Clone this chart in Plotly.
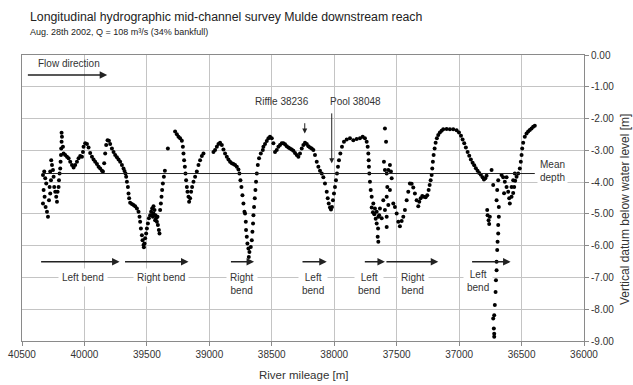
import plotly.graph_objects as go

# ---------------- data ----------------
mileage_a = [40332, 40322, 40314, 40306, 40327, 40319, 40332, 40311, 40300, 40292, 40284, 40274, 40279, 40268,
             40274, 40260, 40266, 40252, 40247, 40242, 40234, 40226, 40220, 40215, 40207, 40204, 40199, 40194,
             40191, 40188, 40186, 40183, 40180, 40183]
depth_a = [-3.78, -3.67, -3.88, -4.04, -4.25, -4.46, -4.67, -4.78, -4.93, -5.09, -4.57, -4.36, -4.15, -3.94,
           -3.67, -3.46, -3.31, -3.62, -3.83, -4.15, -4.30, -4.46, -4.62, -4.30, -4.15, -3.94, -3.73, -3.57,
           -3.36, -3.15, -2.94, -2.73, -2.57, -2.45]

mileage_b = [40172, 40167, 40154, 40140, 40127, 40114, 40100, 40087, 40074, 40060, 40047, 40034, 40020, 40012,
             40007, 39994, 39980, 39967, 39954, 39940, 39927, 39914, 39900, 39887, 39874, 39860, 39852, 39842,
             39834, 39826, 39815, 39804, 39794, 39780, 39767, 39754, 39740, 39727, 39714, 39700, 39687, 39679,
             39671, 39666, 39660, 39652, 39647, 39642, 39634, 39620, 39607, 39594, 39580, 39567]
depth_b = [-2.89, -3.10, -3.15, -3.20, -3.25, -3.36, -3.46, -3.54, -3.46, -3.36, -3.25, -3.18, -3.20, -3.05,
           -2.89, -2.78, -2.80, -2.91, -3.08, -3.20, -3.29, -3.36, -3.43, -3.52, -3.57, -3.64, -3.67, -3.41,
           -3.10, -2.83, -2.68, -2.70, -2.80, -2.94, -3.05, -3.15, -3.22, -3.29, -3.36, -3.46, -3.57, -3.65,
           -3.73, -3.83, -3.99, -4.15, -4.36, -4.51, -4.65, -4.69, -4.72, -4.76, -4.83, -4.93]

mileage_c = [39559, 39554, 39548, 39540, 39535, 39527, 39524, 39519, 39514, 39506, 39500, 39492, 39484, 39474,
             39466, 39458, 39447, 39439, 39431, 39426, 39420, 39412, 39404, 39399, 39415, 39434, 39452, 39460,
             39447, 39394, 39388, 39383, 39378, 39372, 39364, 39356]
depth_c = [-5.09, -5.25, -5.46, -5.67, -5.83, -5.98, -6.05, -5.93, -5.77, -5.62, -5.46, -5.30, -5.14, -5.04,
           -4.93, -4.83, -4.76, -4.88, -5.04, -5.14, -5.25, -5.35, -5.51, -5.62, -5.09, -5.20, -5.09, -5.04,
           -4.99, -4.88, -4.67, -4.46, -4.25, -4.04, -3.83, -3.64]

mileage_d = [39332, 39274, 39260, 39247, 39234, 39220, 39212, 39207, 39202, 39196, 39191, 39186, 39180, 39175,
             39167, 39162, 39154, 39146, 39138, 39127, 39114, 39100, 39087, 39074, 39060, 39047]
depth_d = [-2.94, -2.41, -2.49, -2.57, -2.62, -2.70, -2.89, -3.10, -3.31, -3.52, -3.73, -3.94, -4.15, -4.30,
           -4.46, -4.62, -4.51, -4.30, -4.15, -3.99, -3.83, -3.67, -3.46, -3.31, -3.18, -3.10]

mileage_e = [38967, 38954, 38940, 38927, 38914, 38900, 38887, 38874, 38860, 38847, 38834, 38820, 38807, 38794,
             38780, 38767, 38759, 38751, 38743, 38735, 38727, 38719, 38714, 38708, 38706, 38700, 38695, 38687,
             38679, 38684, 38668, 38660, 38655, 38650, 38647, 38642, 38636, 38631, 38626, 38620, 38612, 38602,
             38588, 38572, 38567, 38554, 38540, 38527, 38514, 38500, 38487, 38474, 38460, 38447, 38434, 38420,
             38407, 38394, 38380, 38367, 38354, 38340, 38327, 38314, 38300, 38287, 38274, 38260, 38247, 38234,
             38220, 38207, 38194, 38180, 38167]
depth_e = [-3.05, -2.99, -2.89, -2.80, -2.76, -2.83, -2.97, -3.10, -3.20, -3.29, -3.36, -3.41, -3.43, -3.46,
           -3.52, -3.60, -3.73, -3.94, -4.15, -4.41, -4.67, -4.93, -4.99, -5.25, -5.51, -5.72, -5.93, -6.09,
           -6.20, -6.36, -6.04, -5.83, -5.56, -5.30, -5.04, -4.78, -4.51, -4.25, -3.99, -3.73, -3.46, -3.25,
           -3.10, -2.99, -2.89, -2.80, -2.71, -2.62, -2.57, -2.62, -2.78, -3.05, -2.99, -2.89, -2.83, -2.78,
           -2.78, -2.81, -2.87, -2.91, -2.94, -2.97, -3.01, -3.08, -3.15, -3.20, -3.10, -2.94, -2.83, -2.76,
           -2.80, -2.87, -2.91, -2.94, -2.99]

mileage_f = [38154, 38140, 38127, 38114, 38100, 38087, 38074, 38060, 38052, 38044, 38034, 38026, 38018, 38010,
             38002, 37994, 37986, 37978, 37970, 37962, 37951, 37938, 37922, 37900, 37874, 37847, 37820, 37794,
             37772, 37754, 37740, 37732, 37727]
depth_f = [-3.15, -3.36, -3.52, -3.64, -3.73, -3.85, -4.04, -4.30, -4.51, -4.67, -4.80, -4.86, -4.78, -4.57,
           -4.36, -4.15, -3.94, -3.73, -3.52, -3.31, -3.10, -2.89, -2.73, -2.66, -2.62, -2.68, -2.64, -2.62,
           -2.57, -2.62, -2.73, -2.89, -3.10]

mileage_g = [37724, 37722, 37719, 37714, 37708, 37700, 37687, 37674, 37660, 37679, 37647, 37660, 37649, 37652,
             37647, 37594, 37585, 37602, 37594, 37580, 37567, 37554, 37546, 37540, 37554, 37580, 37567, 37607,
             37594, 37580, 37634, 37620, 37580, 37575, 37527, 37514, 37500, 37487, 37474, 37460, 37447, 37434,
             37420, 37407, 37394, 37690, 37640, 37668, 37700]
depth_g = [-3.31, -3.52, -3.73, -3.99, -4.25, -4.46, -4.67, -4.83, -4.93, -5.01, -5.09, -5.30, -5.46, -5.72,
           -5.88, -2.31, -2.73, -3.36, -3.62, -3.73, -3.62, -3.46, -3.67, -3.88, -4.25, -4.46, -4.72, -4.57,
           -4.88, -5.09, -4.83, -5.14, -5.41, -4.15, -4.67, -4.78, -4.99, -5.25, -5.39, -5.22, -5.09, -4.88,
           -4.57, -4.30, -4.04, -4.95, -5.04, -5.15, -4.80]

mileage_h = [37380, 37367, 37354, 37340, 37327, 37319, 37308, 37295, 37282, 37268, 37255, 37244, 37236, 37228,
             37220, 37215, 37210, 37204, 37196, 37188, 37178, 37167, 37154, 37140, 37127, 37100, 37074, 37047,
             37020, 37001, 36985, 36972, 36959, 36946, 36932, 36919, 36906, 36892, 36879, 36866, 36852, 36839,
             36826, 36812, 36801, 36790, 36780]
depth_h = [-4.05, -4.17, -4.36, -4.57, -4.76, -4.62, -4.51, -4.44, -4.46, -4.48, -4.41, -4.25, -4.09, -3.94,
           -3.78, -3.57, -3.36, -3.15, -2.94, -2.76, -2.62, -2.52, -2.44, -2.38, -2.34, -2.33, -2.34, -2.34,
           -2.37, -2.44, -2.54, -2.66, -2.78, -2.91, -3.05, -3.17, -3.29, -3.39, -3.47, -3.56, -3.64, -3.71,
           -3.77, -3.85, -3.92, -3.88, -3.80]

mileage_i = [36740, 36775, 36772, 36764, 36759, 36754, 36727, 36687, 36695, 36700, 36682, 36682, 36687, 36687,
             36692, 36695, 36700, 36700, 36705, 36708, 36714, 36719, 36727, 36722, 36719, 36719]
depth_i = [-3.62, -4.88, -5.04, -5.20, -5.32, -5.09, -4.09, -3.94, -4.25, -4.57, -4.78, -5.09, -5.35, -5.62,
           -5.88, -6.14, -6.51, -6.77, -7.09, -7.46, -7.87, -8.19, -8.29, -8.61, -8.77, -8.87]

mileage_j = [36660, 36647, 36634, 36620, 36607, 36599, 36594, 36580, 36567, 36559, 36551, 36540, 36527, 36514,
             36506, 36500, 36495, 36487, 36474, 36460, 36447, 36434, 36420, 36407, 36394, 36567, 36554, 36580,
             36620, 36640]
depth_j = [-3.78, -3.85, -3.99, -4.15, -4.30, -4.51, -4.67, -4.46, -4.34, -4.15, -3.96, -3.83, -3.73, -3.57,
           -3.36, -3.15, -2.94, -2.76, -2.57, -2.47, -2.41, -2.36, -2.31, -2.26, -2.23, -3.94, -3.73, -4.15,
           -3.85, -4.35]

mean_depth = -3.73
mean_extent = [40340, 36394]

x_tick_vals = [40500, 40000, 39500, 39000, 38500, 38000, 37500, 37000, 36500, 36000]
x_tick_text = ["40500", "40000", "39500", "39000", "38500", "38000", "37500", "37000", "36500", "36000"]
y_tick_vals = [0, -1, -2, -3, -4, -5, -6, -7, -8, -9]
y_tick_text = ["0.00", "-1.00", "-2.00", "-3.00", "-4.00", "-5.00", "-6.00", "-7.00", "-8.00", "-9.00"]

# bend arrows: (start mileage, end mileage)
bend_arrows = [(40359, 39719), (39687, 39167), (38839, 38642), (38266, 38060),
               (37767, 37594), (37594, 37167), (36908, 36588)]
bend_arrow_depth = -6.51
# bend labels: (mileage, depth, text)
bend_labels = [(40009, -7.0, "Left bend"), (39386, -7.0, "Right bend"), (38738, -7.2, "Right<br>bend"),
               (38167, -7.2, "Left<br>bend"), (37722, -7.2, "Left<br>bend"), (37367, -7.2, "Right<br>bend"),
               (36847, -7.1, "Left<br>bend")]

mileage = (mileage_a + mileage_b + mileage_c + mileage_d + mileage_e + mileage_f + mileage_g + mileage_h
           + mileage_i + mileage_j)
depth = (depth_a + depth_b + depth_c + depth_d + depth_e + depth_f + depth_g + depth_h + depth_i + depth_j)

FONT = "Liberation Sans, Arial, sans-serif"
TXT = "#333333"
GRID = "#c4c4c4"

L, R, T, B = 22, 49, 55, 44
W, H = 633, 385
pw, ph = W - L - R, H - T - B


def px_to_paper(px, py):
    return (px - L) / pw, (H - B - py) / ph


fig = go.Figure()
fig.add_trace(go.Scatter(x=mileage, y=depth, mode="markers",
                         marker=dict(size=4, color="black", line=dict(width=0)), showlegend=False))
fig.add_trace(go.Scatter(x=mean_extent, y=[mean_depth, mean_depth], mode="lines",
                         line=dict(color="#222222", width=1), showlegend=False))

ann = []
for x0, x1 in bend_arrows:
    ann.append(dict(x=x1, y=bend_arrow_depth, ax=x0, ay=bend_arrow_depth, xref="x", yref="y",
                    axref="x", ayref="y", text="", showarrow=True, arrowhead=2, arrowsize=1,
                    arrowwidth=1.5, arrowcolor="#222222"))
for x, y, t in bend_labels:
    ann.append(dict(x=x, y=y, xref="x", yref="y", text=t, showarrow=False, bgcolor="white",
                    borderpad=3, font=dict(family=FONT, size=10, color=TXT)))

# flow direction
ann.append(dict(x=39818, y=-0.63, ax=40465, ay=-0.63, xref="x", yref="y", axref="x", ayref="y",
                text="", showarrow=True, arrowhead=2, arrowsize=1, arrowwidth=1.5, arrowcolor="#222222"))
ann.append(dict(x=40126, y=-0.28, xref="x", yref="y", text="Flow direction", showarrow=False,
                font=dict(family=FONT, size=10, color=TXT)))
# riffle / pool
ann.append(dict(x=38236, y=-2.47, ax=38236, ay=-2.10, xref="x", yref="y", axref="x", ayref="y",
                text="", showarrow=True, arrowhead=2, arrowsize=1, arrowwidth=1, arrowcolor="#222222"))
ann.append(dict(x=38420, y=-1.45, xref="x", yref="y", text="Riffle 38236", showarrow=False,
                font=dict(family=FONT, size=10, color=TXT)))
ann.append(dict(x=38020, y=-3.41, ax=38020, ay=-1.79, xref="x", yref="y", axref="x", ayref="y",
                text="", showarrow=True, arrowhead=2, arrowsize=1, arrowwidth=1, arrowcolor="#222222"))
ann.append(dict(x=37826, y=-1.45, xref="x", yref="y", text="Pool 38048", showarrow=False,
                font=dict(family=FONT, size=10, color=TXT)))
# mean depth
ann.append(dict(x=36250, y=-3.66, xref="x", yref="y", text="Mean<br>depth", showarrow=False,
                align="left", bgcolor="white", borderpad=2, font=dict(family=FONT, size=10, color=TXT)))

# chart titles and axis titles placed by pixel position
tx, ty = px_to_paper(28, 16.5)
ann.append(dict(x=tx, y=ty, xref="paper", yref="paper", xanchor="left", yanchor="middle",
                text="Longitudinal hydrographic mid-channel survey Mulde downstream reach", showarrow=False,
                font=dict(family=FONT, size=12.3, color="#222222")))
sx, sy = px_to_paper(28, 32)
ann.append(dict(x=sx, y=sy, xref="paper", yref="paper", xanchor="left", yanchor="middle",
                text="Aug. 28th 2002, Q = 108 m³/s (34% bankfull)", showarrow=False,
                font=dict(family=FONT, size=9, color="#222222")))
xtx, xty = px_to_paper(303, 375)
ann.append(dict(x=xtx, y=xty, xref="paper", yref="paper", xanchor="center", yanchor="middle",
                text="River mileage [m]", showarrow=False, font=dict(family=FONT, size=11.5, color=TXT)))
ytx, yty = px_to_paper(625, 210)
ann.append(dict(x=ytx, y=yty, xref="paper", yref="paper", xanchor="center", yanchor="middle",
                text="Vertical datum below water level [m]", textangle=-90, showarrow=False,
                font=dict(family=FONT, size=12, color=TXT)))

fig.update_layout(
    width=W, height=H, margin=dict(l=L, r=R, t=T, b=B, autoexpand=False),
    paper_bgcolor="white", plot_bgcolor="white",
    font=dict(family=FONT, color=TXT),
    annotations=ann,
    xaxis=dict(range=[40500, 36000], tickvals=x_tick_vals, ticktext=x_tick_text, automargin=False,
               showgrid=True, gridcolor=GRID, gridwidth=1, zeroline=False,
               showline=True, linecolor="#8a8a8a", linewidth=1, mirror=True,
               ticks="outside", ticklen=4, tickcolor="#8a8a8a",
               tickfont=dict(size=10, color=TXT)),
    yaxis=dict(range=[-9, 0], side="right", tickvals=y_tick_vals, ticktext=y_tick_text, automargin=False,
               showgrid=True, gridcolor=GRID, gridwidth=1, zeroline=False,
               showline=True, linecolor="#8a8a8a", linewidth=1, mirror=True,
               ticks="outside", ticklen=4, tickcolor="#8a8a8a",
               tickfont=dict(size=10, color=TXT)),
)

fig.write_html("out.html", config={"displayModeBar": False},
               post_script="document.body.style.margin='0';document.body.style.overflow='hidden';")
